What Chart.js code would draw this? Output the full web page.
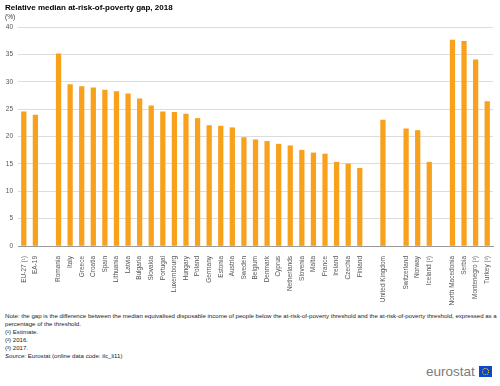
<!DOCTYPE html>
<html>
<head>
<meta charset="utf-8">
<script src="https://cdn.jsdelivr.net/npm/chart.js@4"></script>
<style>
  body { margin: 0; width: 500px; height: 386px; position: relative; background: #fff; font-family: "Liberation Sans", Arial, sans-serif; overflow: hidden; }
  #wrap { position: absolute; left: 0; top: 0; width: 500px; height: 305px; }
  #title { position: absolute; left: 5px; top: 3px; font-size: 8px; font-weight: bold; color: #000; }
  #unit { position: absolute; left: 5px; top: 13px; font-size: 6.5px; color: #333; }
  #notes { position: absolute; left: 5px; top: 312px; width: 498px; font-size: 6.1px; line-height: 8.1px; color: #222; }
  #logo { position: absolute; left: 426px; top: 364px; font-size: 13.5px; color: #7b7b7b; }
  #flag { position: absolute; left: 479px; top: 366px; width: 13px; height: 11px; background: #0e47cb; }
  #flag div { position: absolute; left: 3px; top: 2px; width: 5px; height: 5px; border: 1px dotted #ffde00; border-radius: 50%; }
</style>
</head>
<body>
<div id="wrap"><canvas id="chart"></canvas></div>
<div id="title">Relative median at-risk-of-poverty gap, 2018</div>
<div id="unit">(%)</div>
<div id="notes">
Note: the gap is the difference between the median equivalised disposable income of people below the at-risk-of-poverty threshold and the at-risk-of-poverty threshold, expressed as a percentage of the threshold.<br>
(¹) Estimate.<br>
(²) 2016.<br>
(³) 2017.<br>
<i>Source:</i> Eurostat (online data code: ilc_li11)
</div>
<div id="logo">eurostat</div>
<div id="flag"><div></div></div>
<script>
const countries = [
  'EU-27 (¹)', 'EA-19', '',
  'Romania', 'Italy', 'Greece', 'Croatia', 'Spain', 'Lithuania', 'Latvia', 'Bulgaria', 'Slovakia',
  'Portugal', 'Luxembourg', 'Hungary', 'Poland', 'Germany', 'Estonia', 'Austria', 'Sweden',
  'Belgium', 'Denmark', 'Cyprus', 'Netherlands', 'Slovenia', 'Malta', 'France', 'Ireland',
  'Czechia', 'Finland', '',
  'United Kingdom', '',
  'Switzerland', 'Norway', 'Iceland (²)', '',
  'North Macedonia', 'Serbia', 'Montenegro (³)', 'Turkey (³)'
];
const gapValues = [
  24.5, 23.9, null,
  35.1, 29.5, 29.1, 28.9, 28.5, 28.2, 27.8, 26.9, 25.6,
  24.5, 24.4, 24.1, 23.3, 22.0, 21.9, 21.6, 19.8,
  19.4, 19.1, 18.6, 18.3, 17.5, 17.0, 16.8, 15.3,
  15.0, 14.2, null,
  23.0, null,
  21.4, 21.1, 15.3, null,
  37.6, 37.4, 34.0, 26.4
];
const yTicks = [0, 5, 10, 15, 20, 25, 30, 35, 40];

new Chart(document.getElementById('chart'), {
  type: 'bar',
  data: {
    labels: countries,
    datasets: [{
      data: gapValues,
      backgroundColor: '#f8a11c',
      barThickness: 4.6
    }]
  },
  options: {
    responsive: true,
    maintainAspectRatio: false,
    animation: false,
    layout: { padding: { top: 27, right: 7, left: 0, bottom: 0 } },
    plugins: { legend: { display: false }, tooltip: { enabled: false } },
    scales: {
      x: {
        grid: { display: false },
        border: { color: '#9a9a9a', width: 1 },
        ticks: {
          autoSkip: false, maxRotation: 90, minRotation: 90,
          color: '#555', padding: 2,
          font: { family: '"Liberation Sans", Arial', size: 6.5 }
        },
        afterFit: (scale) => { scale.height = 59; }
      },
      y: {
        min: 0, max: 40,
        afterBuildTicks: (scale) => { scale.ticks = yTicks.map(v => ({ value: v })); },
        grid: { color: '#dcdcdc', lineWidth: 1, drawTicks: false },
        border: { display: false },
        ticks: {
          color: '#555', padding: 5,
          font: { family: '"Liberation Sans", Arial', size: 6.5 }
        },
        afterFit: (scale) => { scale.width = 18; }
      }
    }
  }
});
</script>
</body>
</html>
